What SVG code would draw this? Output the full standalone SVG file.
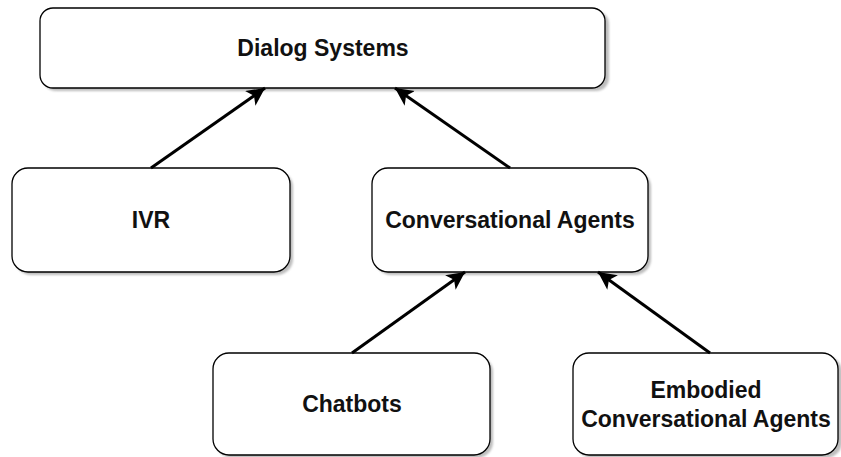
<svg xmlns="http://www.w3.org/2000/svg" width="841" height="457" viewBox="0 0 841 457">
  <style>
    .box { fill: #ffffff; stroke: #000000; stroke-width: 1.3; }
    .shadow { fill: #888888; opacity: 0.55; }
    .lbl { font-family: "Liberation Sans", Arial, sans-serif; font-weight: bold; font-size: 23px; fill: #111111; text-anchor: middle; }
    .edge { stroke: #000000; stroke-width: 3; fill: none; marker-end: url(#arrow); }
  </style>
  <defs>
    <filter id="blur" x="-10%" y="-10%" width="120%" height="120%">
      <feGaussianBlur stdDeviation="1.2"/>
    </filter>
    <marker id="arrow" markerUnits="userSpaceOnUse" markerWidth="22" markerHeight="22" refX="18" refY="9" orient="auto">
      <path d="M0,0 L18,9 L0,18 L4.5,9 Z" fill="#000000"/>
    </marker>
  </defs>

  <g id="node-dialog">
    <rect class="shadow" filter="url(#blur)" x="43" y="11" width="566" height="80" rx="13"/>
    <rect class="box" x="40" y="8" width="565" height="80" rx="13"/>
    <text class="lbl" x="323" y="56">Dialog Systems</text>
  </g>

  <g id="node-ivr">
    <rect class="shadow" filter="url(#blur)" x="15" y="171" width="278" height="104" rx="16"/>
    <rect class="box" x="12" y="168" width="278" height="104" rx="16"/>
    <text class="lbl" x="151" y="228">IVR</text>
  </g>

  <g id="node-conv">
    <rect class="shadow" filter="url(#blur)" x="375" y="171" width="276" height="104" rx="16"/>
    <rect class="box" x="372" y="168" width="276" height="104" rx="16"/>
    <text class="lbl" x="510" y="228">Conversational Agents</text>
  </g>

  <g id="node-chatbots">
    <rect class="shadow" filter="url(#blur)" x="216" y="356" width="277" height="102" rx="16"/>
    <rect class="box" x="213" y="353" width="277" height="102" rx="16"/>
    <text class="lbl" x="352" y="412">Chatbots</text>
  </g>

  <g id="node-embodied">
    <rect class="shadow" filter="url(#blur)" x="576" y="356" width="266" height="102" rx="16"/>
    <rect class="box" x="573" y="353" width="265" height="102" rx="16"/>
    <text class="lbl" x="706" y="398">Embodied</text>
    <text class="lbl" x="706" y="427">Conversational Agents</text>
  </g>

  <g id="connectors">
    <line class="edge" x1="151" y1="168" x2="265" y2="88"/>
    <line class="edge" x1="510" y1="168" x2="395" y2="88"/>
    <line class="edge" x1="352" y1="353" x2="465" y2="272"/>
    <line class="edge" x1="710" y1="353" x2="598" y2="272"/>
  </g>
</svg>
